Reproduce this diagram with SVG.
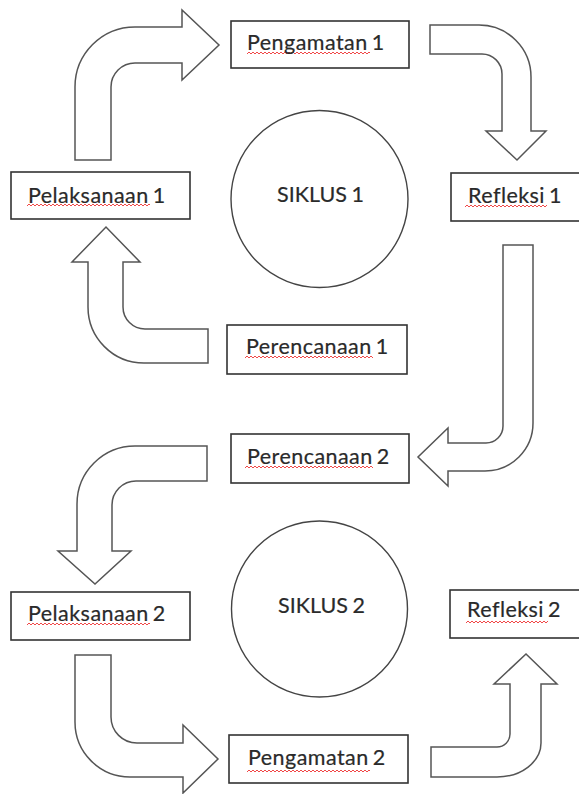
<svg xmlns="http://www.w3.org/2000/svg" width="579" height="794" viewBox="0 0 579 794">
<style>
.box{fill:#fff;stroke:#333;stroke-width:1.6}
.arr{fill:#fff;stroke:#555;stroke-width:1.5;stroke-linejoin:miter}
.cir{fill:#fff;stroke:#444;stroke-width:1.4}
.t{font-family:Lato,"Liberation Sans",sans-serif;font-size:21.5px;fill:#2a2a2a;stroke:#2a2a2a;stroke-width:0.2;letter-spacing:0.45px;word-spacing:-2px}
.c{letter-spacing:0;word-spacing:-1px}
</style>
<defs>
<pattern id="sq" width="4" height="4" patternUnits="userSpaceOnUse">
<path d="M0,3 L2,1 L4,3" fill="none" stroke="#e33" stroke-width="0.9"/>
</pattern>
</defs>
<rect width="579" height="794" fill="#fff"/>
<g id="connectors">
<path id="a1" class="arr" d="M75,160 L75,87 A60,60 0 0 1 135,27 L182,27 L182,10 L219,45 L182,80 L182,63 L135,63 A24,24 0 0 0 111,87 L111,160 Z"/>
<path id="a2" class="arr" d="M430,25 L479,25 A52,52 0 0 1 531,77 L531,131 L546,131 L517,160 L486,131 L502,131 L502,74 A20,20 0 0 0 482,54 L430,54 Z"/>
<path id="a3" class="arr" d="M503,245 L533,245 L533,423 A48,48 0 0 1 485,471 L448,471 L448,486 L418,457 L448,428 L448,443 L486,443 A17,17 0 0 0 503,426 Z"/>
<path id="a4" class="arr" d="M208,329 L145,329 A22,22 0 0 1 123,307 L123,262 L140,262 L106,227 L72,262 L88,262 L88,307 A56,56 0 0 0 144,363 L208,363 Z"/>
<path id="a5" class="arr" d="M207,446 L135,446 A58,58 0 0 0 77,504 L77,551 L58,551 L95,584 L131,551 L112,551 L112,505 A24,24 0 0 1 136,481 L207,481 Z"/>
<path id="a6" class="arr" d="M75,655 L111,655 L111,717 A26,26 0 0 0 137,743 L183,743 L183,725 L218,759 L183,793 L183,777 L130,777 A55,55 0 0 1 75,722 Z"/>
<path id="a7" class="arr" d="M431,747 L497,747 A13,13 0 0 0 510,734 L510,684 L494,684 L526,654 L557,684 L541,684 L541,743 A44,34 0 0 1 497,777 L431,777 Z"/>
</g>
<g id="pengamatan1"><rect class="box" x="231" y="21" width="178" height="47"/><g transform="translate(247,51)"><rect width="123" height="4" fill="url(#sq)"/></g><text class="t" x="247" y="50">Pengamatan 1</text></g>
<g id="pelaksanaan1"><rect class="box" x="11" y="172" width="179" height="47"/><g transform="translate(27,203)"><rect width="123" height="4" fill="url(#sq)"/></g><text class="t" x="28" y="203">Pelaksanaan 1</text></g>
<g id="siklus1"><circle class="cir" cx="319.5" cy="199" r="88.5"/><text class="t c" x="277" y="202">SIKLUS 1</text></g>
<g id="refleksi1"><rect class="box" x="451" y="173" width="140" height="48"/><g transform="translate(465,204)"><rect width="82" height="4" fill="url(#sq)"/></g><text class="t" x="468" y="203">Refleksi 1</text></g>
<g id="perencanaan1"><rect class="box" x="227" y="325" width="180" height="49"/><g transform="translate(245,355)"><rect width="128" height="4" fill="url(#sq)"/></g><text class="t" x="246" y="354">Perencanaan 1</text></g>
<g id="perencanaan2"><rect class="box" x="231" y="434" width="178" height="49"/><g transform="translate(245,465)"><rect width="128" height="4" fill="url(#sq)"/></g><text class="t" x="247" y="464">Perencanaan 2</text></g>
<g id="pelaksanaan2"><rect class="box" x="11" y="592" width="179" height="48"/><g transform="translate(27,622)"><rect width="123" height="4" fill="url(#sq)"/></g><text class="t" x="28" y="621">Pelaksanaan 2</text></g>
<g id="siklus2"><circle class="cir" cx="319.5" cy="609" r="88"/><text class="t c" x="278" y="613">SIKLUS 2</text></g>
<g id="refleksi2"><rect class="box" x="450" y="590" width="140" height="48"/><g transform="translate(466,620)"><rect width="82" height="4" fill="url(#sq)"/></g><text class="t" x="467" y="617">Refleksi 2</text></g>
<g id="pengamatan2"><rect class="box" x="229" y="735" width="179" height="48"/><g transform="translate(247,769)"><rect width="123" height="4" fill="url(#sq)"/></g><text class="t" x="248" y="765">Pengamatan 2</text></g>
</svg>
